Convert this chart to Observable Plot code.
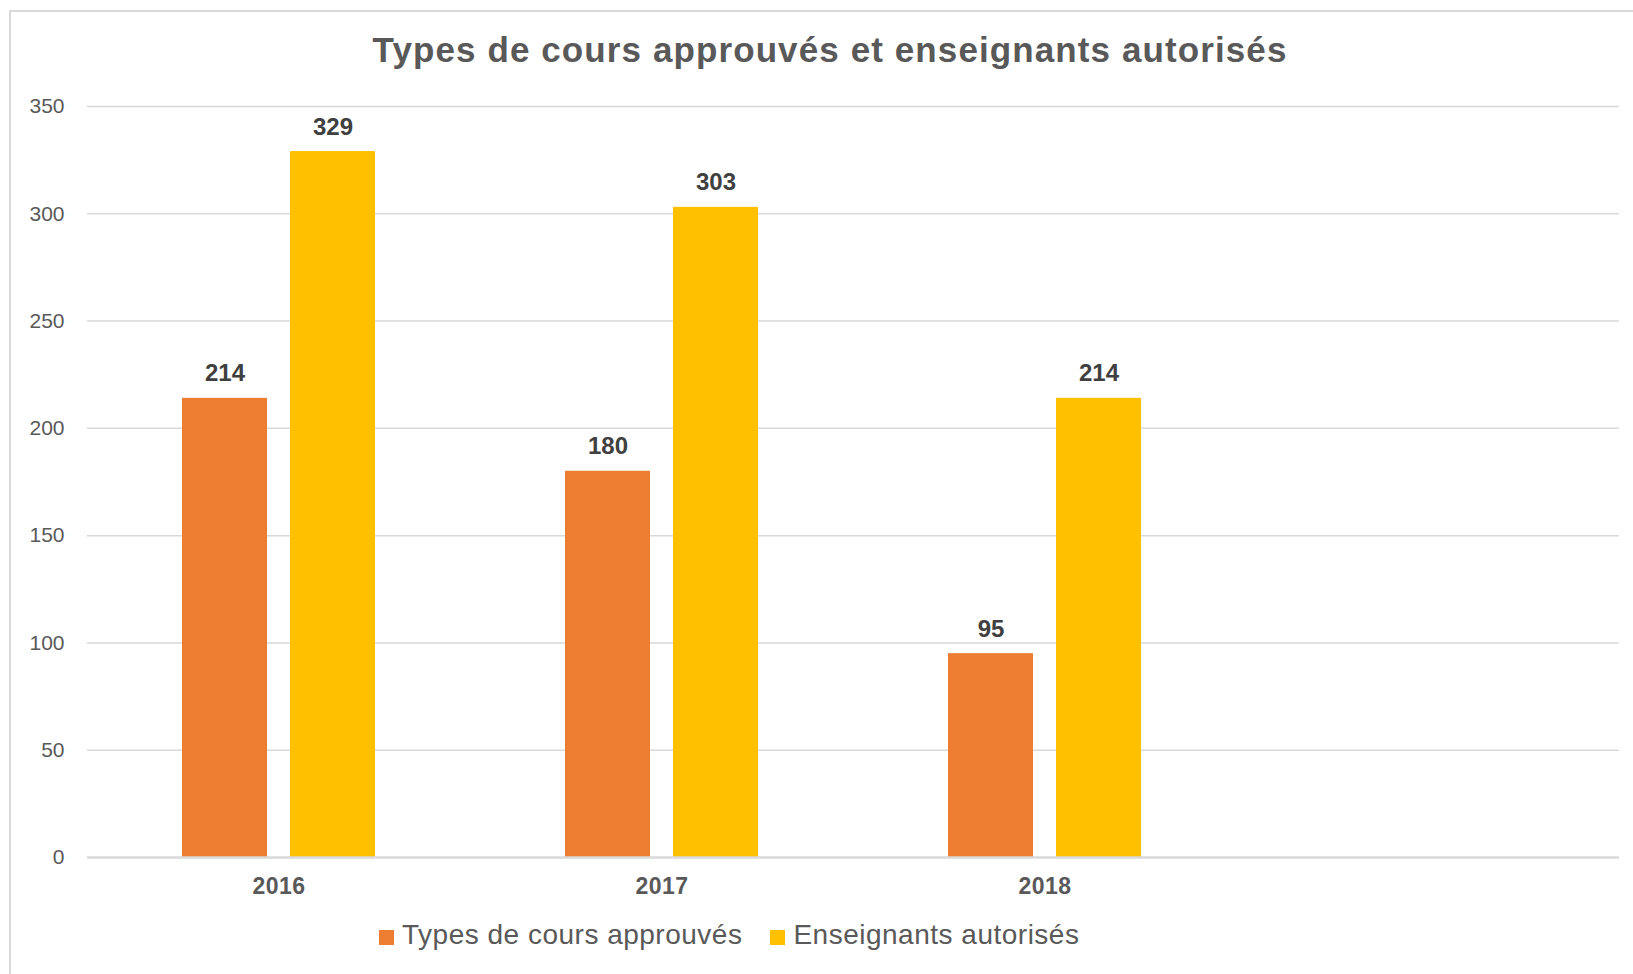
<!DOCTYPE html>
<html>
<head>
<meta charset="utf-8">
<script src="https://cdn.jsdelivr.net/npm/d3@7"></script>
<script src="https://cdn.jsdelivr.net/npm/@observablehq/plot@0.6"></script>
<style>
  html, body { margin: 0; padding: 0; background: #fff; }
  body { width: 1633px; height: 974px; position: relative; overflow: hidden; font-family: "Liberation Sans", Arial, sans-serif; }
  #frame { position: absolute; left: 9px; top: 10px; width: 1700px; height: 1000px; border: 2px solid #d9d9d9; box-sizing: border-box; }
  #title { position: absolute; left: 0; width: 1660px; top: 33px; text-align: center; font-size: 35px; letter-spacing: 1.1px; line-height: 34px; font-weight: bold; color: #595959; white-space: nowrap; }
  #chart { position: absolute; left: 0; top: 80px; }
  #legend { position: absolute; left: 379px; top: 921px; display: flex; align-items: center; font-size: 28px; letter-spacing: 0.5px; line-height: 28px; color: #595959; white-space: nowrap; }
  #legend .item { display: flex; align-items: center; margin-right: 28px; }
  #legend .sw { width: 15px; height: 15px; margin-right: 8px; margin-top: 4px; }
  #chart svg g[aria-label^="fx-axis"] text { font-size: 23px; letter-spacing: 0.5px; font-weight: bold; fill: #595959; }
  #chart svg g[aria-label^="y-axis"] text { font-size: 21px; fill: #595959; }
</style>
</head>
<body>
<div id="frame"></div>
<div id="title"></div>
<div id="chart"></div>
<div id="legend"></div>
<script>
const titleText = "Types de cours approuvés et enseignants autorisés";
const years = ["2016", "2017", "2018", ""]; // the fourth category slot is empty in the source
const seriesNames = ["Types de cours approuvés", "Enseignants autorisés"];
const coursApprouves = [214, 180, 95];
const enseignantsAutorises = [329, 303, 214];
const yTicks = [0, 50, 100, 150, 200, 250, 300, 350];
const colors = ["#ED7D31", "#FFC000"];

const data = [];
years.slice(0, 3).forEach((yr, i) => {
  data.push({year: yr, series: seriesNames[0], value: coursApprouves[i]});
  data.push({year: yr, series: seriesNames[1], value: enseignantsAutorises[i]});
});
// gridlines are drawn in every category slot (including the empty fourth one)
const grid = years.flatMap(yr => yTicks.slice(1).map(t => ({year: yr, value: t})));
const baseline = years.map(yr => ({year: yr, value: 0}));

document.getElementById("title").textContent = titleText;

const chart = Plot.plot({
  width: 1633,
  height: 830,
  marginTop: 26,
  marginBottom: 53,
  marginLeft: 86,
  marginRight: 14,
  style: {fontFamily: "'Liberation Sans', Arial, sans-serif", color: "#595959", background: "transparent"},
  fx: {domain: years, padding: 0, axis: "bottom", tickSize: 0, tickPadding: 20, label: null},
  x: {domain: seriesNames, axis: null, paddingInner: 0.2116, paddingOuter: 0.868},
  y: {domain: [0, 350], ticks: yTicks, tickSize: 0, tickPadding: 23, label: null},
  color: {domain: seriesNames, range: colors},
  marks: [
    Plot.ruleY(grid, {fx: "year", y: "value", stroke: "#d9d9d9", strokeWidth: 1.5}),
    Plot.barY(data, {fx: "year", x: "series", y: "value", fill: "series"}),
    Plot.ruleY(baseline, {fx: "year", y: "value", stroke: "#d9d9d9", strokeWidth: 2.5}),
    Plot.text(data, {fx: "year", x: "series", y: "value", text: d => String(d.value), dy: -17, lineAnchor: "bottom", fontSize: 24, fontWeight: "bold", fill: "#404040"})
  ]
});
document.getElementById("chart").appendChild(chart);

const legend = document.getElementById("legend");
seriesNames.forEach((name, i) => {
  const item = document.createElement("div");
  item.className = "item";
  const sw = document.createElement("span");
  sw.className = "sw";
  sw.style.background = colors[i];
  const label = document.createElement("span");
  label.textContent = name;
  item.appendChild(sw);
  item.appendChild(label);
  legend.appendChild(item);
});
</script>
</body>
</html>
